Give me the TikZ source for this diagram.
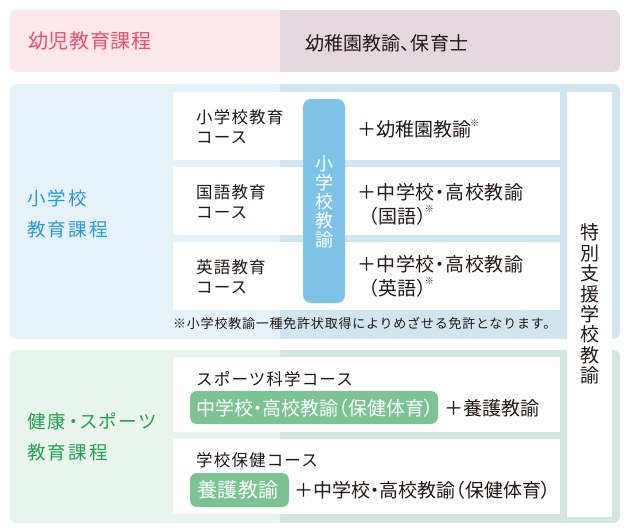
\documentclass[tikz,border=0pt]{standalone}
\usepackage{fontspec}
\setmainfont{Noto Sans CJK JP}
\newfontfamily\jpp[RawFeature=+palt]{Noto Sans CJK JP}
\definecolor{pinkbg}{HTML}{FCE8EA}
\definecolor{pinktx}{HTML}{E8516D}
\definecolor{graybg}{HTML}{E3D8DE}
\definecolor{bluelt}{HTML}{E5F2FA}
\definecolor{bluedk}{HTML}{CFE5EF}
\definecolor{bluebar}{HTML}{7DC3E7}
\definecolor{bluetx}{HTML}{2A9AD4}
\definecolor{greenlt}{HTML}{E8F4EC}
\definecolor{greendk}{HTML}{D3E7E0}
\definecolor{pill}{HTML}{7CC392}
\definecolor{greentx}{HTML}{22A050}
\definecolor{ink}{HTML}{231815}
\tikzset{
  txt/.style={anchor=west, inner sep=0pt, text=ink},
  head/.style={anchor=west, inner sep=0pt, align=left, font=\fontsize{18.5}{31}\selectfont\addfontfeatures{LetterSpace=12}},
  course/.style={anchor=west, inner sep=0pt, align=left, text=ink, font=\fontsize{16.5}{20}\selectfont\addfontfeatures{LetterSpace=7}},
  lic/.style={anchor=west, inner sep=0pt, align=left, text=ink, font=\fontsize{19}{24}\selectfont},
  whitebox/.style={fill=white, draw=none},
  pillbox/.style={fill=pill, rounded corners=7pt, draw=none},
}
\newcommand{\kome}{\raisebox{0.55em}{\fontsize{9}{9}\selectfont ※}}
\begin{document}
\begin{tikzpicture}[x=1pt,y=-1pt]
\useasboundingbox (0,0) rectangle (630,530);
% top bar
\begin{scope}
\clip[rounded corners=7pt] (10,10) rectangle (620,72);
\fill[pinkbg] (10,10) rectangle (280,72);
\fill[graybg] (280,10) rectangle (620,72);
\end{scope}
\node[anchor=west, inner sep=0pt, text=pinktx, font=\fontsize{20}{20}\selectfont\addfontfeatures{LetterSpace=3.5}] (yoji) at (28,41) {幼児教育課程};
\node[txt, font=\jpp\fontsize{19}{19}\selectfont\addfontfeatures{LetterSpace=1}] (yojilic) at (305,43) {幼稚園教諭、保育士};
% blue section
\begin{scope}
\clip[rounded corners=7pt] (10,84) rectangle (620,339);
\fill[bluelt] (10,84) rectangle (280,339);
\fill[bluedk] (280,84) rectangle (620,339);
\end{scope}
% green section
\begin{scope}
\clip[rounded corners=7pt] (10,350) rectangle (620,523);
\fill[greenlt] (10,350) rectangle (280,523);
\fill[greendk] (280,350) rectangle (620,523);
\end{scope}
% white boxes
\fill[whitebox] (173,92) rectangle (560,160);
\fill[whitebox] (173,167) rectangle (560,235);
\fill[whitebox] (173,242) rectangle (560,310);
\fill[whitebox] (173,357) rectangle (560,432);
\fill[whitebox] (173,439) rectangle (560,514);
\fill[whitebox] (567,92) rectangle (612,517);
% blue bar
\fill[bluebar, rounded corners=8pt] (303,99) rectangle (345,303);
\node[inner sep=0pt, align=center, text=white, font=\fontsize{18}{19}\selectfont] (shokyo) at (324,202) {小\\学\\校\\教\\諭};
% special support
\node[inner sep=0pt, align=center, text=ink, font=\fontsize{19}{20.4}\selectfont] (tokubetsu) at (590,304) {特\\別\\支\\援\\学\\校\\教\\諭};
% blue headings
\node[head, text=bluetx] (shohead) at (27,213.5) {小学校\\教育課程};
% courses
\node[course] (c1) at (196,127) {小学校教育\\コース};
\node[course] (c2) at (196,201.5) {国語教育\\コース};
\node[course] (c3) at (196,277) {英語教育\\コース};
\node[lic] (l1) at (357,129) {＋幼稚園教諭\kern-1pt\kome};
\node[lic, font=\jpp\fontsize{19}{24}\selectfont\addfontfeatures{LetterSpace=3}] (l2) at (357,204) {＋中学校・高校教諭\\\kern11pt（国語）\kern-2pt\kome};
\node[lic, font=\jpp\fontsize{19}{24}\selectfont\addfontfeatures{LetterSpace=3}] (l3) at (357,276) {＋中学校・高校教諭\\\kern11pt（英語）\kern-2pt\kome};
\node[txt, font=\fontsize{13}{13}\selectfont\addfontfeatures{LetterSpace=6}] (note) at (173,323) {※小学校教諭一種免許状取得によりめざせる免許となります。};
% green headings
\node[head, text=greentx, font=\jpp\fontsize{18.5}{31}\selectfont\addfontfeatures{LetterSpace=12}] (kenhead) at (27,436.5) {健康・スポーツ\\教育課程};
\node[course] (c4) at (196,379) {スポーツ科学コース};
\node[course] (c5) at (196,460) {学校保健コース};
\fill[pillbox] (190,391) rectangle (438,424);
\node[anchor=west, inner sep=0pt, text=white, font=\jpp\fontsize{19}{19}\selectfont] (p1) at (196,408) {中学校・高校教諭（保健体育）};
\node[txt, font=\jpp\fontsize{19}{19}\selectfont] (l4) at (444,408) {＋養護教諭};
\fill[pillbox] (190,473) rectangle (289,507);
\node[anchor=west, inner sep=0pt, text=white, font=\fontsize{20}{20}\selectfont\addfontfeatures{LetterSpace=3}] (p2) at (197,490) {養護教諭};
\node[txt, font=\jpp\fontsize{19}{19}\selectfont] (l5) at (294,490) {＋中学校・高校教諭（保健体育）};
\end{tikzpicture}
\end{document}
